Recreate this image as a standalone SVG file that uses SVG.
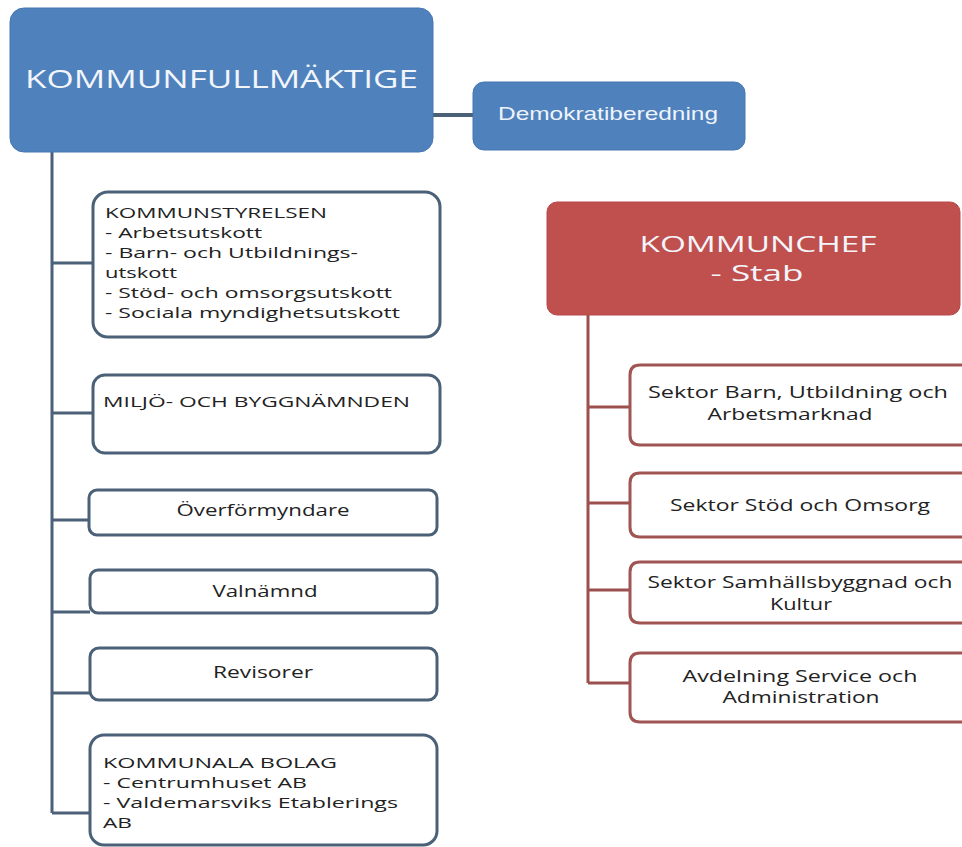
<svg xmlns="http://www.w3.org/2000/svg" width="962" height="847" viewBox="0 0 962 847">
<style>
.bg{fill:#ffffff}
.blue{fill:#4f81bd;stroke:#4677b0;stroke-width:1}
.red{fill:#c0504d;stroke:#b8484a;stroke-width:1}
.bbox{fill:#ffffff;stroke:#4a6178;stroke-width:3}
.rbox{fill:#ffffff;stroke:#a05453;stroke-width:3}
.bline{stroke:#4a6178;stroke-width:3;fill:none}
.rline{stroke:#9b4f4f;stroke-width:3;fill:none}
.wt{fill:#f2f5fa;font-family:"Open Sans","DejaVu Sans",sans-serif}
.dt{fill:#eef3fb;font-family:"Liberation Sans",Arial,sans-serif}
.t{fill:#222222;font-family:"Open Sans","DejaVu Sans",sans-serif;font-size:15px}
.tc{fill:#222222;font-family:"Open Sans","DejaVu Sans",sans-serif;font-size:16px;text-anchor:middle}
</style>
<rect class="bg" x="0" y="0" width="962" height="847"/>

<g id="connectors">
  <line class="bline" x1="433" y1="115" x2="473" y2="115" style="stroke-width:4"/>
  <line class="bline" x1="52" y1="152" x2="52" y2="813"/>
  <line class="bline" x1="52" y1="263" x2="93" y2="263"/>
  <line class="bline" x1="52" y1="413" x2="93" y2="413"/>
  <line class="bline" x1="52" y1="520" x2="89" y2="520"/>
  <line class="bline" x1="52" y1="612" x2="90" y2="612"/>
  <line class="bline" x1="52" y1="693" x2="90" y2="693"/>
  <line class="bline" x1="52" y1="813" x2="90" y2="813"/>
  <line class="rline" x1="588" y1="315" x2="588" y2="683"/>
  <line class="rline" x1="588" y1="407" x2="630" y2="407"/>
  <line class="rline" x1="588" y1="503" x2="630" y2="503"/>
  <line class="rline" x1="588" y1="590" x2="630" y2="590"/>
  <line class="rline" x1="588" y1="683" x2="630" y2="683"/>
</g>

<g id="kommunfullmaktige">
  <rect class="blue" x="10" y="8" width="423" height="144" rx="14"/>
  <text class="wt" x="221.5" y="88" font-size="26" text-anchor="middle" textLength="393" lengthAdjust="spacingAndGlyphs">KOMMUNFULLMÄKTIGE</text>
</g>

<g id="demokratiberedning">
  <rect class="blue" x="473" y="82" width="272" height="68" rx="11"/>
  <text class="dt" x="608" y="120" font-size="19" text-anchor="middle" textLength="220" lengthAdjust="spacingAndGlyphs">Demokratiberedning</text>
</g>

<g id="kommunstyrelsen">
  <rect class="bbox" x="93" y="192" width="347" height="145" rx="15"/>
  <text class="t" x="105" y="218" textLength="222" lengthAdjust="spacingAndGlyphs">KOMMUNSTYRELSEN</text>
  <text class="t" x="105" y="238" textLength="157" lengthAdjust="spacingAndGlyphs">- Arbetsutskott</text>
  <text class="t" x="105" y="258" textLength="253" lengthAdjust="spacingAndGlyphs">- Barn- och Utbildnings-</text>
  <text class="t" x="105" y="278" textLength="72" lengthAdjust="spacingAndGlyphs">utskott</text>
  <text class="t" x="105" y="298" textLength="287" lengthAdjust="spacingAndGlyphs">- Stöd- och omsorgsutskott</text>
  <text class="t" x="105" y="318" textLength="295" lengthAdjust="spacingAndGlyphs">- Sociala myndighetsutskott</text>
</g>

<g id="miljo">
  <rect class="bbox" x="93" y="375" width="347" height="78" rx="12"/>
  <text class="t" x="103" y="407" textLength="307" lengthAdjust="spacingAndGlyphs">MILJÖ- OCH BYGGNÄMNDEN</text>
</g>

<g id="overformyndare">
  <rect class="bbox" x="89" y="490" width="348" height="45" rx="8"/>
  <text class="tc" x="263" y="516" textLength="173" lengthAdjust="spacingAndGlyphs">Överförmyndare</text>
</g>

<g id="valnamnd">
  <rect class="bbox" x="90" y="570" width="347" height="43" rx="8"/>
  <text class="tc" x="265" y="597" textLength="105" lengthAdjust="spacingAndGlyphs">Valnämnd</text>
</g>

<g id="revisorer">
  <rect class="bbox" x="90" y="648" width="347" height="52" rx="9"/>
  <text class="tc" x="263" y="678" textLength="100" lengthAdjust="spacingAndGlyphs">Revisorer</text>
</g>

<g id="kommunala-bolag">
  <rect class="bbox" x="90" y="735" width="347" height="110" rx="14"/>
  <text class="t" x="103" y="768" textLength="234" lengthAdjust="spacingAndGlyphs">KOMMUNALA BOLAG</text>
  <text class="t" x="103" y="788" textLength="204" lengthAdjust="spacingAndGlyphs">- Centrumhuset AB</text>
  <text class="t" x="103" y="808" textLength="295" lengthAdjust="spacingAndGlyphs">- Valdemarsviks Etablerings</text>
  <text class="t" x="103" y="828" textLength="29" lengthAdjust="spacingAndGlyphs">AB</text>
</g>

<g id="kommunchef">
  <rect class="red" x="547" y="202" width="413" height="113" rx="10"/>
  <text class="wt" x="758" y="252" font-size="21" text-anchor="middle" textLength="237" lengthAdjust="spacingAndGlyphs">KOMMUNCHEF</text>
  <text class="wt" x="757" y="281" font-size="21" text-anchor="middle" textLength="93" lengthAdjust="spacingAndGlyphs">- Stab</text>
</g>

<g id="sektor-barn">
  <path class="rbox" d="M963 365 H640 Q630 365 630 375 V435 Q630 445 640 445 H963"/>
  <text class="tc" x="798" y="398" textLength="300" lengthAdjust="spacingAndGlyphs">Sektor Barn, Utbildning och</text>
  <text class="tc" x="790" y="420" textLength="165" lengthAdjust="spacingAndGlyphs">Arbetsmarknad</text>
</g>

<g id="sektor-stod">
  <path class="rbox" d="M963 473 H640 Q630 473 630 483 V527 Q630 537 640 537 H963"/>
  <text class="tc" x="800" y="511" textLength="260" lengthAdjust="spacingAndGlyphs">Sektor Stöd och Omsorg</text>
</g>

<g id="sektor-samhallsbyggnad">
  <path class="rbox" d="M963 562 H640 Q630 562 630 572 V613 Q630 623 640 623 H963"/>
  <text class="tc" x="800" y="588" textLength="305" lengthAdjust="spacingAndGlyphs">Sektor Samhällsbyggnad och</text>
  <text class="tc" x="801" y="610" textLength="62" lengthAdjust="spacingAndGlyphs">Kultur</text>
</g>

<g id="avdelning-service">
  <path class="rbox" d="M963 653 H640 Q630 653 630 663 V712 Q630 722 640 722 H963"/>
  <text class="tc" x="800" y="682" textLength="235" lengthAdjust="spacingAndGlyphs">Avdelning Service och</text>
  <text class="tc" x="801" y="703" textLength="157" lengthAdjust="spacingAndGlyphs">Administration</text>
</g>
</svg>
